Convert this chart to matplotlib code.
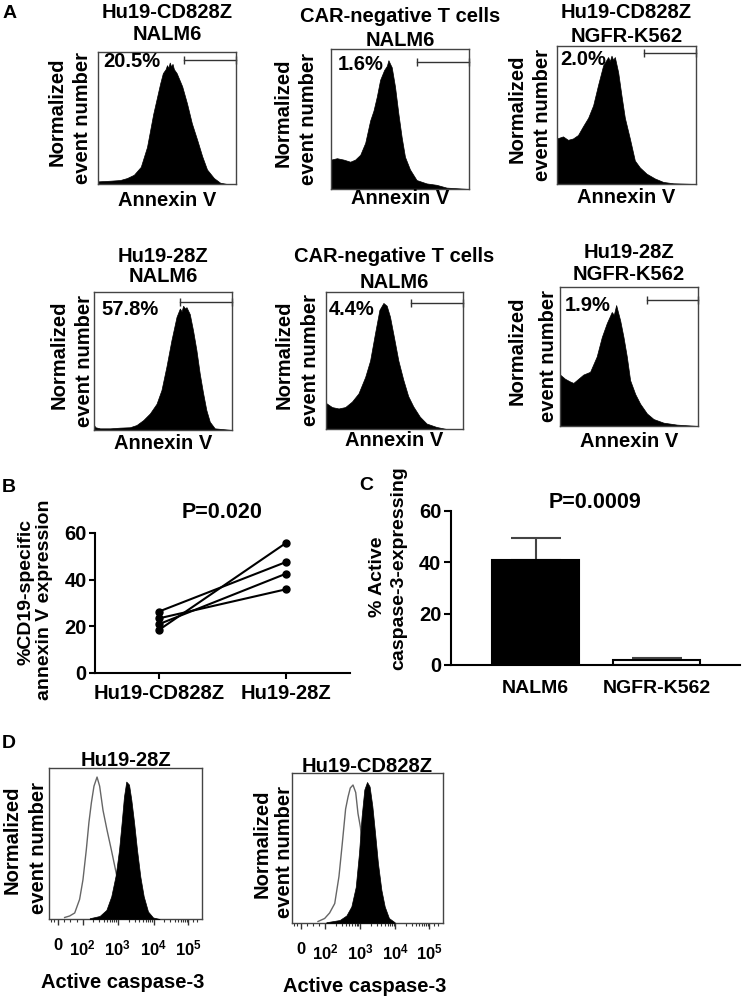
import numpy as np
import matplotlib
matplotlib.use('Agg')
import matplotlib.pyplot as plt

# ---- panel A: annexin V histograms (x = channel %, y = % of box height) ----
a1_x = [0, 9, 16, 21, 26, 31, 35.5, 40, 45, 47, 49, 50, 51, 52, 53, 54, 55, 57, 61, 64.5, 68, 72, 75.5, 79, 84, 88.5, 93.5, 100]
a1_y = [2, 2.5, 3, 4.5, 7, 13, 28, 53, 76, 84, 87, 90, 88, 92, 89, 91, 87, 84, 74, 61, 46, 33, 21, 11, 4.5, 1, 0, 0]

a2_x = [0, 4.3, 9.1, 13.9, 17.5, 21.2, 24.8, 28.4, 30.8, 33.2, 35.6, 38.5, 40.5, 41.6, 43, 44, 46.4, 48.8, 51.2, 53.6, 57.2, 62, 69.2, 76.4, 83.7, 100]
a2_y = [21, 22, 21, 19.5, 21, 24.5, 33, 49, 56, 66, 78, 85, 88, 92, 89, 87, 73, 54, 37, 23, 14, 6.4, 4, 3, 1, 0]

a3_x = [0, 4.3, 7.9, 11.5, 15.1, 18.8, 22.4, 26, 29.6, 33.2, 36.8, 38, 39.2, 40.4, 41.6, 44, 46.4, 48.8, 52.4, 56, 59.6, 64.4, 70.4, 76.4, 83.7, 100]
a3_y = [33, 34.5, 32, 33, 35.5, 42, 48, 57, 72, 86, 92, 89, 93, 90, 92, 81, 64, 48, 33, 17, 12, 7.5, 4, 1.5, 0.5, 0]

a4_x = [0, 1, 4.3, 11.6, 18.8, 26, 30.8, 35.7, 40.5, 45.3, 48.9, 52.5, 56.1, 59.8, 62.2, 63.5, 64.6, 66, 67, 69.4, 71.8, 74.2, 76.6, 79, 81.4, 83.9, 87.5, 100]
a4_y = [3.6, 2, 1.2, 1.2, 1.7, 2, 3.6, 7.2, 12, 19, 29, 46, 65, 82, 88, 86, 90, 88, 89, 84, 72, 58, 41, 27, 14.5, 6, 1.2, 0]

a5_x = [0, 4.4, 9.2, 14, 18.9, 23.7, 28.6, 32.2, 35.8, 39, 41.9, 44.3, 46.7, 49.6, 52.8, 56.4, 60, 63.7, 68.5, 73.4, 80.6, 87.9, 100]
a5_y = [19, 16, 15, 16, 20, 26, 38, 50, 70, 87, 92, 90, 82, 67, 50, 36, 24, 16.5, 9, 4, 1.5, 0, 0]

a6_x = [0, 3.6, 7.3, 9.7, 12.1, 16.9, 21.8, 26.6, 30.3, 33.9, 37.5, 39, 40.7, 42, 43.6, 46, 48.4, 50.8, 54.5, 58.1, 63, 67.8, 75, 84.7, 100]
a6_y = [37, 34, 32, 31, 33, 37, 39, 50, 64, 74, 82, 80, 87, 82, 76, 64, 50, 33, 23, 16, 9, 5, 2.4, 1, 0]

a_titles = ['Hu19-CD828Z\nNALM6', 'CAR-negative T cells\nNALM6', 'Hu19-CD828Z\nNGFR-K562',
            'Hu19-28Z\nNALM6', 'CAR-negative T cells\nNALM6', 'Hu19-28Z\nNGFR-K562']
a_pcts = ['20.5%', '1.6%', '2.0%', '57.8%', '4.4%', '1.9%']

# ---- panel B ----
b_groups = ['Hu19-CD828Z', 'Hu19-28Z']
b_left = [26.3, 23.4, 20.9, 18.4]
b_right = [47.6, 35.9, 42.6, 55.8]

# ---- panel C ----
c_groups = ['NALM6', 'NGFR-K562']
c_means = [40.8, 1.8]
c_err = [8.5, 0.9]

# ---- panel D: active caspase-3 histograms ----
d1_open_x = [10.2, 13.5, 16.8, 20, 22.2, 24.4, 26.1, 27.7, 29.4, 31.4, 33.1, 35.3, 37.9, 40.7, 43.6, 46.2, 49.5, 52.7, 57.1]
d1_open_y = [1, 2, 4, 13, 26, 46, 64, 77, 88, 94, 88, 72, 59, 46, 32, 19, 8, 3, 0.7]
d1_fill_x = [26.6, 33.1, 37.5, 40.7, 43.6, 45.8, 47.5, 49, 50.5, 52.3, 53.8, 55.6, 57.5, 59.7, 61.9, 64.7, 68, 72.3]
d1_fill_y = [0.5, 2, 6, 15, 29, 46, 64, 81, 91, 89, 79, 64, 46, 28, 15, 5, 1, 0]

d2_open_x = [17.2, 21.6, 24.9, 28.3, 31.1, 33.3, 35.5, 37.1, 38.6, 40.4, 42.2, 43.7, 45.3, 47, 49.2, 51.4, 54.7, 58.1]
d2_open_y = [1, 3, 6.7, 13, 31, 53, 76, 84, 90, 92, 87, 73, 64, 49, 31, 18, 7, 2]
d2_fill_x = [22.7, 31.6, 36, 39.3, 42.2, 44.4, 46.1, 47.9, 49.7, 51.4, 53.2, 55, 56.9, 59.2, 61.4, 64.2, 68]
d2_fill_y = [0.5, 2, 5, 11, 24, 47, 71, 89, 94, 91, 78, 60, 40, 22, 11, 3.3, 0.5]

d_tick_labels = ['0', r'$\mathbf{10^{2}}$', r'$\mathbf{10^{3}}$', r'$\mathbf{10^{4}}$', r'$\mathbf{10^{5}}$']

W, H = 743, 1000
plt.rcParams['font.family'] = ['Liberation Sans', 'DejaVu Sans']
plt.rcParams['font.weight'] = 'bold'
plt.rcParams['mathtext.fontset'] = 'custom'
plt.rcParams['mathtext.bf'] = 'Liberation Sans:bold'
plt.rcParams['mathtext.rm'] = 'Liberation Sans:bold'

fig = plt.figure(figsize=(W / 100, H / 100), dpi=100)


def px_ax(x0, y0, x1, y1):
    # axes from pixel box (top-left origin)
    return fig.add_axes([x0 / W, 1 - y1 / H, (x1 - x0) / W, (y1 - y0) / H])


def txt(x, y, s, size=14.5, **kw):
    kw.setdefault('ha', 'center')
    kw.setdefault('va', 'center')
    fig.text(x / W, 1 - y / H, s, fontsize=size, fontweight='bold', **kw)


def annexin(box, xs, ys, title, title_y, pct, pct_xy, gate_xy, ylab_dx, xlab_y):
    x0, y0, x1, y1 = box
    ax = px_ax(*box)
    ax.fill_between(xs, ys, 0, color='black', lw=0.5)
    ax.set_xlim(0, 100)
    ax.set_ylim(0, 100)
    ax.set_xticks([])
    ax.set_yticks([])
    for s in ax.spines.values():
        s.set_linewidth(1.0)
        s.set_color('#444')
    ax.plot([gate_xy[0], 100], [gate_xy[1]] * 2, color='#333', lw=1,
            marker='|', ms=6, mew=1, clip_on=False)
    ax.text(pct_xy[0], pct_xy[1], pct, fontsize=14.5, fontweight='bold',
            ha='left', va='center')
    cx, cy = (x0 + x1) / 2, (y0 + y1) / 2
    for line, ty in zip(title.split('\n'), title_y):
        txt(cx, ty, line)
    txt(x0 + ylab_dx[0], cy - 6, 'Normalized', rotation=90)
    txt(x0 + ylab_dx[1], cy, 'event number', rotation=90)
    txt(cx, xlab_y, 'Annexin V')


annexin((98, 52, 236, 184), a1_x, a1_y, a_titles[0], (13, 35), a_pcts[0], (3.6, 92.5), (62, 93.7), (-41, -16), 200)
annexin((331, 49, 469, 189), a2_x, a2_y, a_titles[1], (17, 40), a_pcts[1], (4.8, 88.6), (62, 91), (-48, -23), 198)
annexin((557, 46, 696, 184), a3_x, a3_y, a_titles[2], (13, 37), a_pcts[2], (2, 90), (62.5, 95), (-40, -14), 197)
annexin((94, 292, 232, 430), a4_x, a4_y, a_titles[3], (257, 277), a_pcts[3], (5.5, 87), (62.2, 93), (-35, -10), 443)
annexin((326, 292, 463, 429), a5_x, a5_y, a_titles[4], (257, 282), a_pcts[4], (2, 87), (62, 92), (-42, -15), 440)
annexin((560, 287, 698, 426), a6_x, a6_y, a_titles[5], (253, 275), a_pcts[5], (3.6, 87), (63, 91), (-43, -12), 441)

# ---- panel B ----
axB = px_ax(95, 533, 350, 673)
for l, r in zip(b_left, b_right):
    axB.plot([0, 1], [l, r], '-o', color='black', lw=1.5, ms=5, clip_on=False)
axB.set_xlim(-0.5, 1.5)
axB.set_ylim(0, 60)
axB.set_xticks([0, 1], b_groups)
axB.set_yticks([0, 20, 40, 60])
for side in ['top', 'right']:
    axB.spines[side].set_visible(False)
for side in ['left', 'bottom']:
    axB.spines[side].set_linewidth(1.5)
axB.tick_params(width=1.5, length=4, labelsize=14.5, pad=2)
axB.tick_params(axis='x', pad=4)
txt(222, 513, 'P=0.020', 15.5)
txt(26, 592, '%CD19-specific', 14, rotation=90)
txt(45, 600, 'annexin V expression', 14, rotation=90)

# ---- panel C ----
axC = px_ax(451, 511, 740, 665)
axC.errorbar([0, 1], c_means, yerr=[[0, 0], c_err], fmt='none', ecolor='#444',
             elinewidth=1.5, capsize=18, capthick=1.5, zorder=1)
axC.bar([0, 1], c_means, width=0.72, color=['black', 'white'], edgecolor='black',
        lw=1.5, zorder=2)
axC.set_xlim(-0.70, 1.69)
axC.set_ylim(0, 60)
axC.set_xticks([0, 1], c_groups)
axC.set_yticks([0, 20, 40, 60])
for side in ['top', 'right']:
    axC.spines[side].set_visible(False)
for side in ['left', 'bottom']:
    axC.spines[side].set_linewidth(1.5)
axC.tick_params(axis='y', width=1.5, length=5, labelsize=14.5, pad=2)
axC.tick_params(axis='x', length=0, labelsize=14, pad=11)
txt(595, 503, 'P=0.0009', 15.5)
txt(378, 577, '% Active', 14, rotation=90)
txt(399, 568, 'caspase-3-expressing', 14, rotation=90)


# ---- panel D ----
def caspase(box, ox, oy, fx, fy, title, ylab_dx, xlab_y):
    x0, y0, x1, y1 = box
    ax = px_ax(*box)
    ax.fill_between(ox, oy, 0, color='white', lw=0, zorder=1)
    ax.plot(ox, oy, color='#666', lw=1, zorder=2)
    ax.fill_between(fx, fy, 0, color='black', lw=0.5, zorder=3)
    ax.set_xlim(0, 100)
    ax.set_ylim(0, 100)
    ax.set_yticks([])
    major = [6, 22, 45, 68.5, 91]
    minor = [1.5, 3.5, 10, 14, 18]
    for a, b in zip(major[1:-1], major[2:]):
        minor += [a + (b - a) * np.log10(k) for k in range(2, 10)]
    minor += [94, 97]
    ax.set_xticks(major, d_tick_labels)
    ax.set_xticks(minor, minor=True)
    ax.tick_params(axis='x', which='major', length=4, width=1, color='#333',
                   labelsize=12, pad=10)
    ax.tick_params(axis='x', which='minor', length=2.5, width=0.8, color='#333')
    for s in ax.spines.values():
        s.set_linewidth(1.0)
        s.set_color('#444')
    cx, cy = (x0 + x1) / 2, (y0 + y1) / 2
    txt(cx, y0 - 7, title)
    txt(x0 + ylab_dx[0], cy - 4, 'Normalized', rotation=90)
    txt(x0 + ylab_dx[1], cy + 4, 'event number', rotation=90)
    txt(cx - 3, xlab_y, 'Active caspase-3')


caspase((49, 768, 202, 919), d1_open_x, d1_open_y, d1_fill_x, d1_fill_y, 'Hu19-28Z', (-37, -11), 983)
caspase((292, 773, 443, 923), d2_open_x, d2_open_y, d2_fill_x, d2_fill_y, 'Hu19-CD828Z', (-30, -8), 987)

# panel letters
txt(10, 13, 'A', 14)
txt(9, 487, 'B', 14)
txt(366, 485, 'C', 14)
txt(9, 743, 'D', 14)

fig.savefig('out.png', dpi=100)
